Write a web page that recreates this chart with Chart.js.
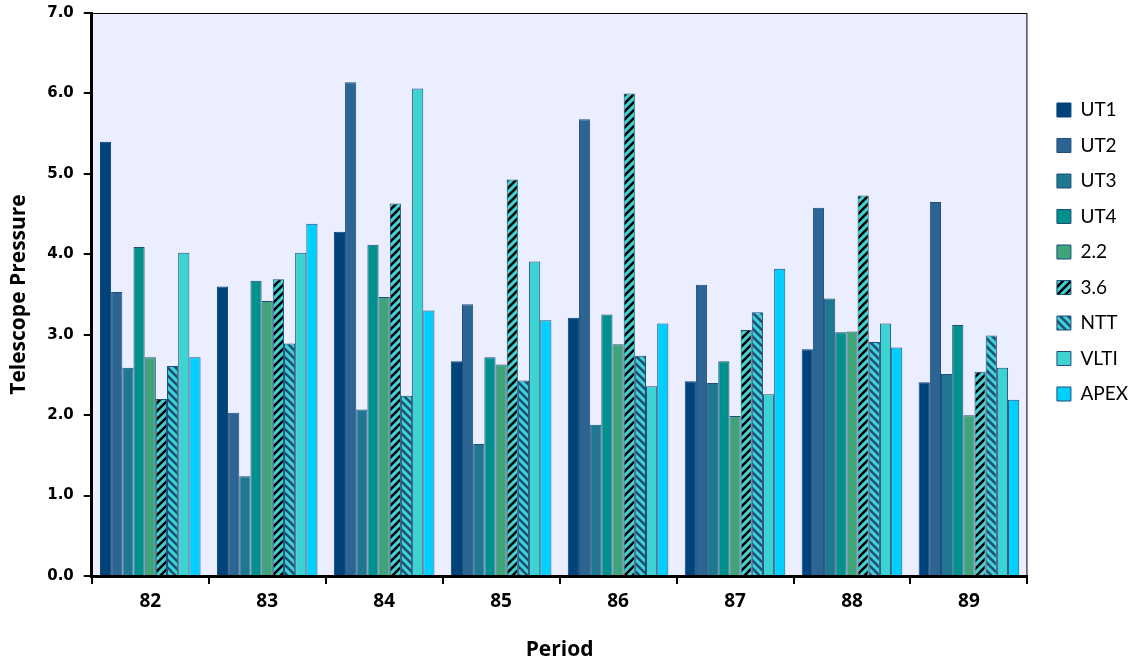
<!DOCTYPE html>
<html>
<head>
<meta charset="utf-8">
<script src="https://cdn.jsdelivr.net/npm/chart.js@4"></script>
<style>
  html, body { margin: 0; padding: 0; background: #fff; }
  #wrap { width: 1141px; height: 666px; }
</style>
</head>
<body>
<div id="wrap"><canvas id="chart" width="1141" height="666"></canvas></div>
<script>
// periods on the x axis
const periods = ['82', '83', '84', '85', '86', '87', '88', '89'];

// one array per telescope
const ut1  = [5.40, 3.60, 4.28, 2.67, 3.21, 2.42, 2.82, 2.41];
const ut2  = [3.53, 2.03, 6.14, 3.38, 5.68, 3.62, 4.58, 4.65];
const ut3  = [2.59, 1.24, 2.07, 1.64, 1.88, 2.40, 3.45, 2.51];
const ut4  = [4.09, 3.67, 4.12, 2.72, 3.25, 2.67, 3.03, 3.12];
const t22  = [2.72, 3.42, 3.47, 2.63, 2.88, 1.99, 3.04, 2.00];
const t36  = [2.20, 3.69, 4.63, 4.93, 6.00, 3.06, 4.73, 2.54];
const ntt  = [2.61, 2.89, 2.24, 2.43, 2.74, 3.28, 2.91, 2.99];
const vlti = [4.02, 4.02, 6.06, 3.91, 2.36, 2.26, 3.14, 2.59];
const apex = [2.72, 4.38, 3.30, 3.18, 3.14, 3.82, 2.84, 2.19];

const yTicks = [0, 1, 2, 3, 4, 5, 6, 7];

// striped fills for 3.6 and NTT
function stripes(bg, fg, dir) {
  const c = document.createElement('canvas');
  c.width = 8; c.height = 8;
  const g = c.getContext('2d');
  g.fillStyle = bg;
  g.fillRect(0, 0, 8, 8);
  g.strokeStyle = fg;
  g.lineWidth = 2.6;
  g.beginPath();
  if (dir === '/') {
    g.moveTo(-2, 10); g.lineTo(10, -2);
    g.moveTo(-2, 2); g.lineTo(2, -2);
    g.moveTo(6, 10); g.lineTo(10, 6);
  } else {
    g.moveTo(-2, -2); g.lineTo(10, 10);
    g.moveTo(6, -2); g.lineTo(10, 2);
    g.moveTo(-2, 6); g.lineTo(2, 10);
  }
  g.stroke();
  return g.createPattern(c, 'repeat');
}

const ctx = document.getElementById('chart').getContext('2d');
const edge = '#1f4e79';

function ds(label, data, fill, border) {
  return { label, data, backgroundColor: fill, borderColor: border || edge, borderWidth: 1 };
}

// light plot background + thin frame, and nudge the legend a bit away from the plot
const plotBg = {
  id: 'plotBg',
  afterLayout(chart) {
    chart.legend.left += 13;
    chart.legend.right += 13;
  },
  beforeDraw(chart) {
    const a = chart.chartArea, c = chart.ctx;
    c.save();
    c.fillStyle = '#ebeeff';
    c.fillRect(a.left, a.top, a.right - a.left, a.bottom - a.top);
    c.restore();
  },
  afterDatasetsDraw(chart) {
    const a = chart.chartArea, c = chart.ctx;
    c.save();
    c.strokeStyle = '#000';
    c.lineWidth = 1;
    c.strokeRect(a.left + 0.5, a.top + 0.5, a.right - a.left - 1, a.bottom - a.top);
    c.restore();
  }
};

new Chart(ctx, {
  type: 'bar',
  data: {
    labels: periods,
    datasets: [
      ds('UT1', ut1, '#00427a', '#00427a'),
      ds('UT2', ut2, '#2c6494'),
      ds('UT3', ut3, '#1f7892'),
      ds('UT4', ut4, '#00908e'),
      ds('2.2', t22, '#3fa47a'),
      ds('3.6', t36, stripes('#3dd3d3', '#000', '/')),
      ds('NTT', ntt, stripes('#3dd3d3', '#1f4e79', '\\')),
      ds('VLTI', vlti, '#3dd3d3'),
      ds('APEX', apex, '#00d0ff')
    ]
  },
  options: {
    responsive: false,
    animation: false,
    layout: { padding: { left: 2, right: 16, top: 13, bottom: -1 } },
    datasets: { bar: { categoryPercentage: 0.86, barPercentage: 1.0 } },
    plugins: {
      tooltip: { enabled: false },
      legend: {
        position: 'right',
        align: 'start',
        title: { display: true, text: ' ', font: { size: 10 }, padding: { top: 0, bottom: 59 } },
        labels: {
          boxWidth: 14,
          boxHeight: 14,
          padding: 16.5,
          color: '#000',
          font: { family: 'Lato', size: 19 }
        }
      }
    },
    scales: {
      x: {
        grid: { drawOnChartArea: false, offset: true, color: '#000', lineWidth: 2, tickLength: 8 },
        border: { color: '#000', width: 3 },
        ticks: { color: '#000', padding: 6, font: { family: 'Open Sans', size: 19, weight: 'bold' } },
        title: { display: true, text: 'Period', color: '#000', padding: { top: 19 },
                 font: { family: 'Open Sans', size: 21, weight: 'bold' } }
      },
      y: {
        min: 0, max: 7,
        afterBuildTicks(axis) { axis.ticks = yTicks.map(v => ({ value: v })); },
        afterFit(axis) { axis.paddingTop = 0; },
        grid: { drawOnChartArea: false, color: '#000', lineWidth: 2, tickLength: 8 },
        border: { color: '#000', width: 3 },
        ticks: { color: '#000', padding: 10, callback: v => v.toFixed(1),
                 font: { family: 'DejaVu Sans', size: 15, weight: 'bold' } },
        title: { display: true, text: 'Telescope Pressure', color: '#000', padding: { bottom: 6 },
                 font: { family: 'Open Sans', size: 21, weight: 'bold' } }
      }
    }
  },
  plugins: [plotBg]
});
</script>
</body>
</html>
